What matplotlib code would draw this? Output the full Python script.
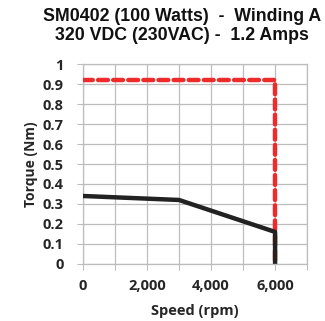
import matplotlib
matplotlib.use("Agg")
import matplotlib.pyplot as plt
from matplotlib.font_manager import FontProperties
from matplotlib.ticker import FuncFormatter, MultipleLocator

# torque-speed curve
speed_cont = [0, 3000, 6000, 6000]
torque_cont = [0.34, 0.32, 0.16, 0.0]

speed_peak = [0, 6000, 6000]
torque_peak = [0.92, 0.92, 0.0]

x_ticks = [0, 2000, 4000, 6000]
y_ticks = [0, 0.1, 0.2, 0.3, 0.4, 0.5, 0.6, 0.7, 0.8, 0.9, 1]

title_lines = ["SM0402 (100 Watts)  -  Winding A", "320 VDC (230VAC) -  1.2 Amps"]

fig = plt.figure(figsize=(3.25, 3.21), dpi=100)
ax = fig.add_axes([0.255, 0.178, 0.69, 0.622])

ax.plot(speed_peak, torque_peak, color="#ee2a2a", linewidth=3.2,
        linestyle=(0, (2.2, 1.2)), dash_capstyle="round", zorder=3)
ax.plot(speed_cont, torque_cont, color="#222222", linewidth=3.2,
        solid_capstyle="butt", zorder=4)

ax.set_xlim(0, 7000)
ax.set_ylim(0, 1)
ax.xaxis.set_major_locator(MultipleLocator(1000))
ax.set_yticks(y_ticks)
ax.xaxis.set_major_formatter(FuncFormatter(
    lambda v, p: f"{int(v):,}" if int(v) in x_ticks else ""))
ax.yaxis.set_major_formatter(FuncFormatter(lambda v, p: f"{v:g}"))

ax.grid(True, color="#bdbdbd", linewidth=0.9)
ax.set_axisbelow(True)
for s in ax.spines.values():
    s.set_color("#bdbdbd")
    s.set_linewidth(0.9)
ax.tick_params(axis="x", length=4, color="#bdbdbd", pad=7)
ax.tick_params(axis="y", length=4, color="#bdbdbd", pad=10)

tick_fp = FontProperties(family="Open Sans", weight="bold", size=10.5)
for lab in ax.get_xticklabels() + ax.get_yticklabels():
    lab.set_fontproperties(tick_fp)
    lab.set_color("#262626")

ax.set_xlabel("Speed (rpm)", family="Open Sans", weight="bold", size=10.5,
              color="#262626", labelpad=8)
ax.set_ylabel("Torque (Nm)", family="Open Sans", weight="bold", size=10,
              color="#262626", labelpad=3)

fig.text(0.56, 0.95, title_lines[0], ha="center", va="center",
         family="Liberation Sans", weight="bold", size=12.8, color="#111111")
fig.text(0.56, 0.888, title_lines[1], ha="center", va="center",
         family="Liberation Sans", weight="bold", size=12.8, color="#111111")

fig.savefig("out.png", dpi=100)
